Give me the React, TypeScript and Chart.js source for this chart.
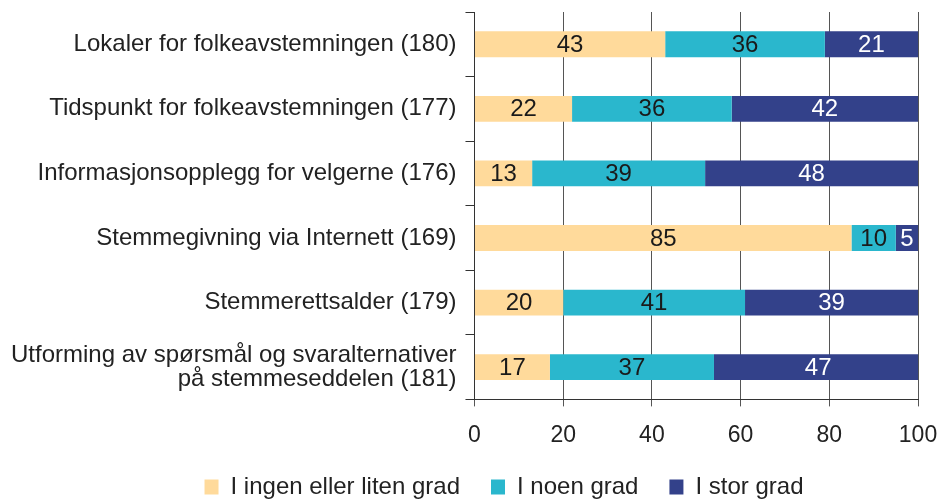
import React, { useEffect, useRef } from "react";
import { Chart, registerables } from "chart.js";

Chart.register(...registerables);

const categories: (string | string[])[] = [
  "Lokaler for folkeavstemningen (180)",
  "Tidspunkt for folkeavstemningen (177)",
  "Informasjonsopplegg for velgerne (176)",
  "Stemmegivning via Internett (169)",
  "Stemmerettsalder (179)",
  ["Utforming av spørsmål og svaralternativer", "på stemmeseddelen (181)"],
];
const seriesNames = ["I ingen eller liten grad", "I noen grad", "I stor grad"];
const lowValues = [43, 22, 13, 85, 20, 17];
const someValues = [36, 36, 39, 10, 41, 37];
const highValues = [21, 42, 48, 5, 39, 47];
const xTicks = [0, 20, 40, 60, 80, 100];

const FONT = "'Liberation Sans', Arial, sans-serif";

const labelPlugin = {
  id: "barValues",
  afterDatasetsDraw(chart: any) {
    const ctx = chart.ctx;
    ctx.save();
    ctx.font = `24px ${FONT}`;
    ctx.textAlign = "center";
    ctx.textBaseline = "middle";
    chart.data.datasets.forEach((ds: any, i: number) => {
      const meta = chart.getDatasetMeta(i);
      meta.data.forEach((el: any, j: number) => {
        const p = el.getCenterPoint();
        ctx.fillStyle = ds.labelColor;
        ctx.fillText(String(ds.data[j]), p.x, p.y + 1);
      });
    });
    ctx.restore();
  },
};

const legendShift = {
  id: "legendShift",
  beforeDraw(chart: any) {
    const lg = chart.legend;
    if (lg && !lg._shifted) {
      lg.left += 43;
      lg.right += 43;
      lg.top -= 20;
      lg._shifted = true;
    }
  },
};

export default function App() {
  const ref = useRef<HTMLCanvasElement | null>(null);
  useEffect(() => {
    document.body.style.margin = "0";
    const chart = new Chart(ref.current!, {
      type: "bar",
      data: {
        labels: categories,
        datasets: [
          { label: seriesNames[0], data: lowValues, backgroundColor: "#FFDA9B", labelColor: "#1a1a1a" } as any,
          { label: seriesNames[1], data: someValues, backgroundColor: "#2AB7CD", labelColor: "#1a1a1a" } as any,
          { label: seriesNames[2], data: highValues, backgroundColor: "#33418A", labelColor: "#ffffff" } as any,
        ],
      },
      options: {
        indexAxis: "y",
        animation: false,
        responsive: false,
        maintainAspectRatio: false,
        datasets: { bar: { categoryPercentage: 1, barPercentage: 0.4 } },
        layout: { padding: { top: 12, right: 23, left: 4, bottom: 0 } },
        scales: {
          x: {
            stacked: true,
            min: 0,
            max: 100,
            afterBuildTicks: (axis: any) => {
              axis.ticks = xTicks.map((v) => ({ value: v }));
            },
            afterFit: (scale: any) => {
              scale.paddingRight = 0;
              scale.paddingLeft = 0;
            },
            grid: { color: "#555555", lineWidth: 1, tickLength: 7 },
            border: { color: "#333333" },
            ticks: { font: { family: FONT, size: 23 }, color: "#222222", padding: 15 },
          },
          y: {
            stacked: true,
            afterFit: (scale: any) => {
              scale.paddingTop = 0;
              const sizes = scale._getLabelSizes ? scale._getLabelSizes() : null;
              if (sizes && sizes.widest) {
                scale.width = Math.max(scale.width, sizes.widest.width + 9 + 9 + 7);
              }
            },
            grid: { offset: true, drawOnChartArea: false, color: "#333333", tickLength: 9 },
            border: { color: "#333333" },
            ticks: { font: { family: FONT, size: 24, lineHeight: 1.0 }, color: "#222222", padding: 9 },
          },
        },
        plugins: {
          legend: {
            position: "bottom",
            labels: {
              font: { family: FONT, size: 24 },
              color: "#222222",
              boxWidth: 14,
              boxHeight: 15,
              padding: 31,
            },
            maxHeight: 35,
          },
          tooltip: { enabled: false },
        },
      },
      plugins: [labelPlugin, legendShift],
    });
    return () => chart.destroy();
  }, []);
  return (
    <div style={{ width: 941, height: 499, overflow: "hidden" }}>
      <canvas ref={ref} width={941} height={499} style={{ display: "block" }} />
    </div>
  );
}
